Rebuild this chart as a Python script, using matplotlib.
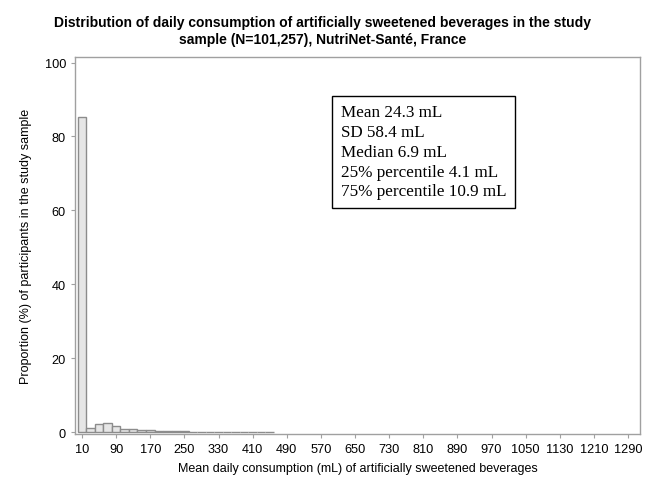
import matplotlib
matplotlib.use("Agg")
import matplotlib.pyplot as plt
import numpy as np

# Bin midpoints (mL) and proportion (%) per 20 mL bin
bin_mid = [10, 30, 50, 70, 90, 110, 130, 150, 170, 190, 210, 230, 250, 270,
           290, 310, 330, 350, 370, 390, 410, 430, 450]
pct = [85.4, 1.2, 2.3, 2.6, 1.6, 0.9, 0.8, 0.6, 0.6, 0.4, 0.3, 0.25, 0.2, 0.15,
       0.12, 0.1, 0.1, 0.08, 0.06, 0.05, 0.05, 0.04, 0.03]
tick_vals = list(range(10, 1291, 80))
stats_lines = ["Mean 24.3 mL", "SD 58.4 mL", "Median 6.9 mL",
               "25% percentile 4.1 mL", "75% percentile 10.9 mL"]

plt.rcParams['font.family'] = ['Liberation Sans', 'DejaVu Sans']

fig = plt.figure(figsize=(6.45, 4.89), dpi=100)
ax = fig.add_axes([75/645, 1-435/489, 565/645, 377/489])

ax.bar(bin_mid, pct, width=20, color='#e6e6e6', edgecolor='#8c8c8c', linewidth=1.0)

ax.set_xlim(-6.5, 1318)
ax.set_ylim(-0.5, 101.5)
ax.set_xticks(tick_vals)
ax.set_yticks([0, 20, 40, 60, 80, 100])
ax.tick_params(labelsize=9.2, color='#a0a0a0', length=3, width=0.8)
for s in ax.spines.values():
    s.set_color('#a0a0a0')
    s.set_linewidth(1.0)

ax.set_xlabel("Mean daily consumption (mL) of artificially sweetened beverages",
              fontsize=9, labelpad=5)
ax.set_ylabel("Proportion (%) of participants in the study sample", fontsize=9, labelpad=9)

fig.suptitle("Distribution of daily consumption of artificially sweetened beverages in the study\n"
             "sample (N=101,257), NutriNet-Santé, France",
             fontsize=10, fontweight='bold', y=0.968, linespacing=1.35)

ax.text(0.47, 0.875, "\n".join(stats_lines), transform=ax.transAxes,
        fontsize=12.3, family=['Liberation Serif', 'DejaVu Serif'], va='top', ha='left',
        linespacing=1.32,
        bbox=dict(boxstyle='square,pad=0.5', facecolor='white', edgecolor='black', linewidth=1.0))

fig.savefig("out.png", dpi=100)
